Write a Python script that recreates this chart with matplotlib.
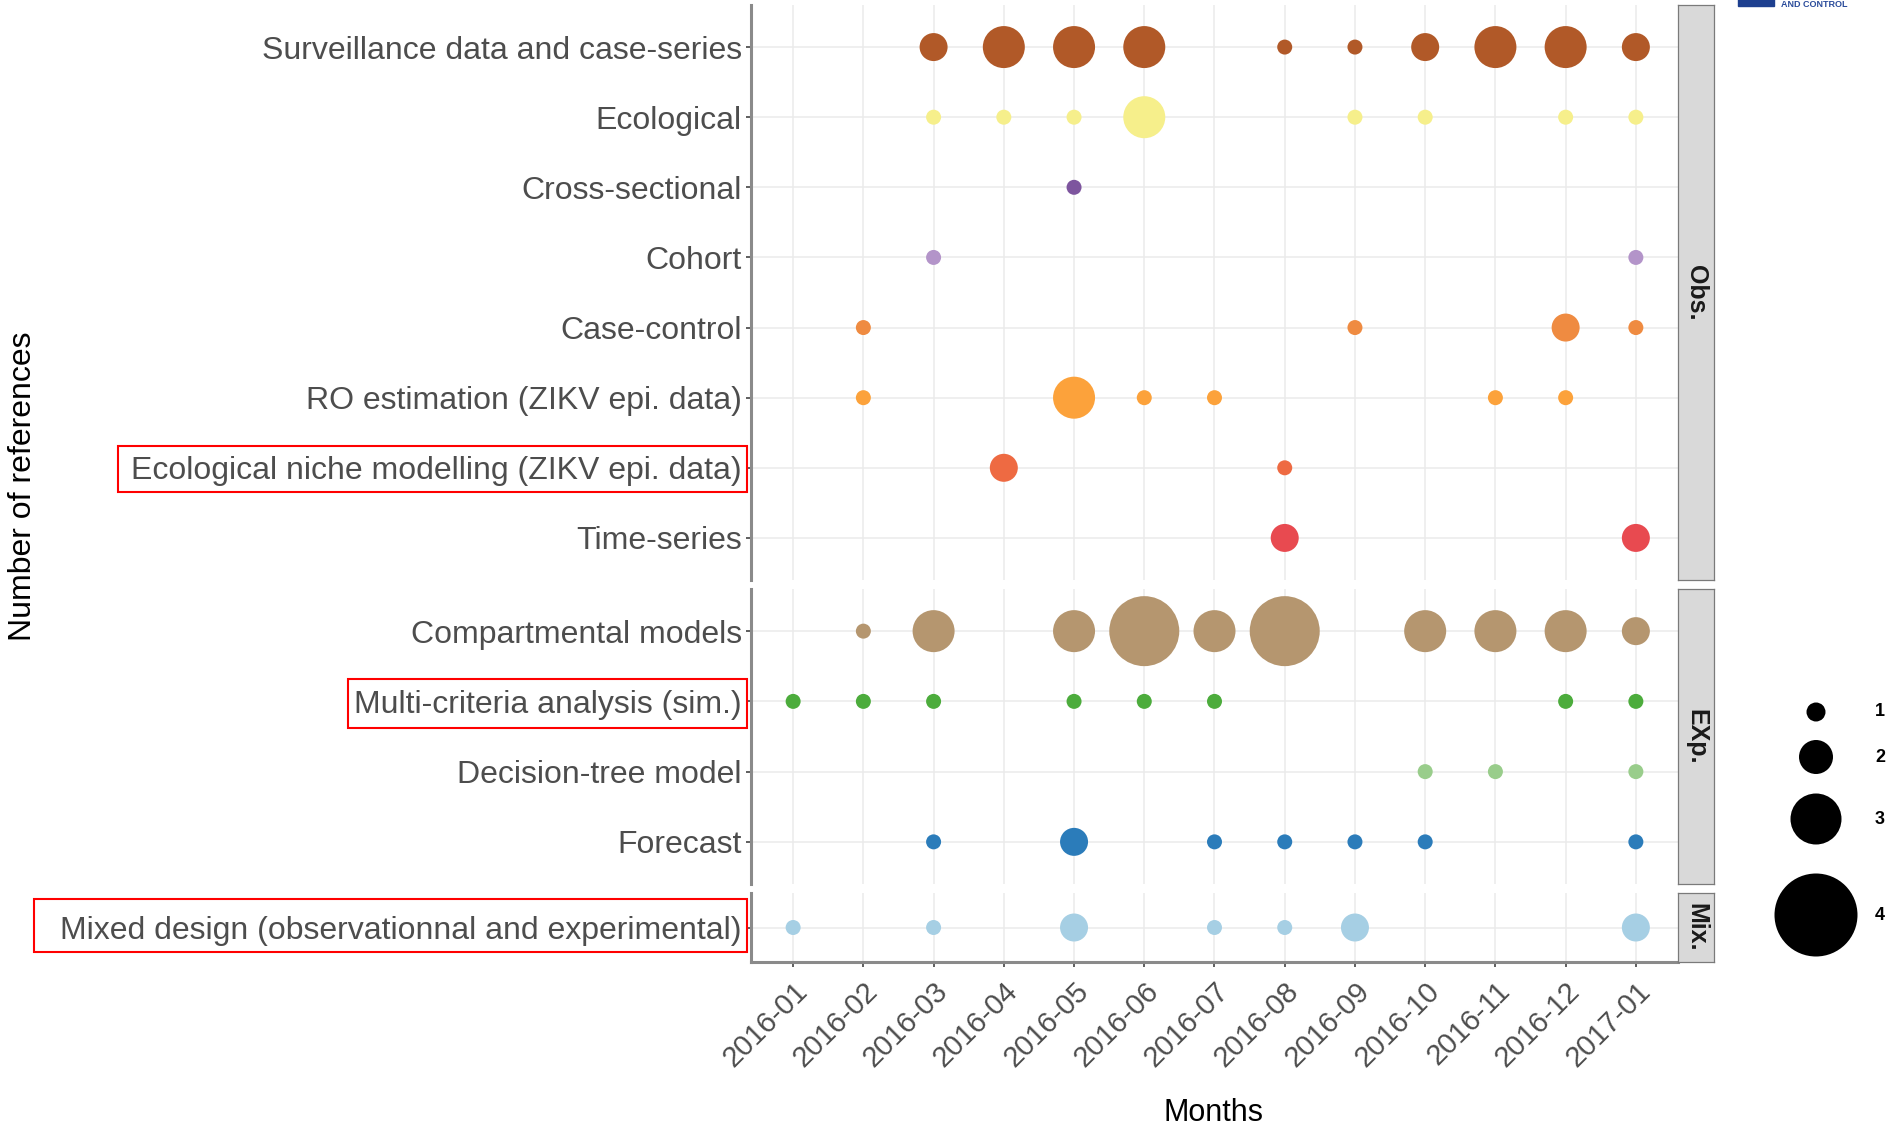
import matplotlib
matplotlib.use('Agg')
import matplotlib.pyplot as plt
from matplotlib.patches import Rectangle

plt.rcParams['font.family'] = ['Liberation Sans', 'DejaVu Sans']

# ---------------- data ----------------
months = ['2016-01', '2016-02', '2016-03', '2016-04', '2016-05', '2016-06', '2016-07',
          '2016-08', '2016-09', '2016-10', '2016-11', '2016-12', '2017-01']

obs_categories = ['Surveillance data and case-series', 'Ecological', 'Cross-sectional', 'Cohort',
                  'Case-control', 'RO estimation (ZIKV epi. data)',
                  'Ecological niche modelling (ZIKV epi. data)', 'Time-series']
exp_categories = ['Compartmental models', 'Multi-criteria analysis (sim.)',
                  'Decision-tree model', 'Forecast']
mix_categories = ['Mixed design (observationnal and experimental)']

# number of references per month (0 = none)
surveillance    = [0, 0, 2, 3, 3, 3, 0, 1, 1, 2, 3, 3, 2]
ecological      = [0, 0, 1, 1, 1, 3, 0, 0, 1, 1, 0, 1, 1]
cross_sectional = [0, 0, 0, 0, 1, 0, 0, 0, 0, 0, 0, 0, 0]
cohort          = [0, 0, 1, 0, 0, 0, 0, 0, 0, 0, 0, 0, 1]
case_control    = [0, 1, 0, 0, 0, 0, 0, 0, 1, 0, 0, 2, 1]
ro_estimation   = [0, 1, 0, 0, 3, 1, 1, 0, 0, 0, 1, 1, 0]
niche_modelling = [0, 0, 0, 2, 0, 0, 0, 1, 0, 0, 0, 0, 0]
time_series     = [0, 0, 0, 0, 0, 0, 0, 2, 0, 0, 0, 0, 2]

compartmental   = [0, 1, 3, 0, 3, 4, 3, 4, 0, 3, 3, 3, 2]
multi_criteria  = [1, 1, 1, 0, 1, 1, 1, 0, 0, 0, 0, 1, 1]
decision_tree   = [0, 0, 0, 0, 0, 0, 0, 0, 0, 1, 1, 0, 1]
forecast        = [0, 0, 1, 0, 2, 0, 1, 1, 1, 1, 0, 0, 1]

mixed_design    = [1, 0, 1, 0, 2, 0, 1, 1, 2, 0, 0, 0, 2]

legend_values = [1, 2, 3, 4]

obs_values = [surveillance, ecological, cross_sectional, cohort, case_control,
              ro_estimation, niche_modelling, time_series]
exp_values = [compartmental, multi_criteria, decision_tree, forecast]
mix_values = [mixed_design]

obs_colors = ['#b15928', '#f6ef8b', '#7d559e', '#b394c9', '#ef8b41', '#fca23b', '#ee6a42', '#e84a50']
exp_colors = ['#b5966f', '#4cac3c', '#99cd8b', '#2b7cba']
mix_colors = ['#a6cfe4']

# ---------------- style / scales ----------------
W, H = 1890, 1128
DPI = 100
size_diam_px = {1: 15, 2: 28, 3: 42, 4: 70}       # size scale (diameter in px)
legend_diam_px = {1: 19, 2: 34, 3: 51, 4: 83}


def area(d_px):
    return (d_px * 72.0 / DPI) ** 2


def rect(x0, y0, x1, y1):
    return [x0 / W, 1 - y1 / H, (x1 - x0) / W, (y1 - y0) / H]


fig = plt.figure(figsize=(W / DPI, H / DPI), dpi=DPI)

PX0, PX1 = 751, 1678
panels = [
    ('Obs.', obs_categories, obs_values, obs_colors, 5, 580),
    ('EXp.', exp_categories, exp_values, exp_colors, 589, 884),
    ('Mix.', mix_categories, mix_values, mix_colors, 893, 962),
]

for i, (strip, cats, vals, cols, top, bot) in enumerate(panels):
    ax = fig.add_axes(rect(PX0, top, PX1, bot))
    n = len(cats)
    ax.set_xlim(-0.6, len(months) - 1 + 0.6)
    if n > 1:
        ax.set_ylim(n - 1 + 0.6, -0.6)
    else:
        ax.set_ylim(0.49, -0.49)
    ax.set_axisbelow(True)
    ax.grid(True, color='#ebebeb', lw=1.1)
    for j, (row, c) in enumerate(zip(vals, cols)):
        xs = [k for k, v in enumerate(row) if v > 0]
        ss = [area(size_diam_px[v]) for v in row if v > 0]
        ax.scatter(xs, [j] * len(xs), s=ss, color=c, edgecolors='none', zorder=3)
    ax.set_yticks(range(n))
    ax.set_yticklabels(cats)
    ax.set_xticks(range(len(months)))
    for sp in ['top', 'right']:
        ax.spines[sp].set_visible(False)
    ax.spines['left'].set_color('#8a8a8a')
    ax.spines['left'].set_linewidth(2.2)
    ax.tick_params(axis='y', length=3.6, width=1.1, color='#333333',
                   labelsize=23, labelcolor='#4d4d4d', pad=3)
    if i == len(panels) - 1:
        ax.spines['bottom'].set_color('#8a8a8a')
        ax.spines['bottom'].set_linewidth(2.2)
        ax.tick_params(axis='x', length=3.6, width=1.1, color='#333333',
                       labelsize=21, labelcolor='#4d4d4d', pad=7)
        ax.set_xticklabels(months, rotation=45, ha='right', va='top',
                           rotation_mode='anchor')
    else:
        ax.spines['bottom'].set_visible(False)
        ax.tick_params(axis='x', bottom=False, labelbottom=False)

    sax = fig.add_axes(rect(1678, top, 1714, bot))
    sax.set_facecolor('#d9d9d9')
    sax.set_xticks([])
    sax.set_yticks([])
    for sp in sax.spines.values():
        sp.set_color('#7a7a7a')
        sp.set_linewidth(0.9)
    sax.text(0.5, 0.5, strip, rotation=-90, ha='center', va='center',
             fontsize=18, fontweight='bold', color='#1a1a1a', transform=sax.transAxes)

# axis titles
fig.text(23 / W, 1 - 486 / H, 'Number of references', rotation=90,
         ha='center', va='center', fontsize=23, color='black')
fig.text(1214 / W, 1 - 1113 / H, 'Months', ha='center', va='center',
         fontsize=22, color='black')

# red highlight boxes
for (x0, y0, x1, y1) in [(118, 446, 747, 492), (348, 679, 747, 728), (34, 899, 747, 952)]:
    fig.add_artist(Rectangle((x0 / W, 1 - y1 / H), (x1 - x0) / W, (y1 - y0) / H,
                             transform=fig.transFigure, fill=False, ec='#ff0000', lw=1.5))

# overlay for legend and logo
lax = fig.add_axes([0, 0, 1, 1])
lax.set_xlim(0, W)
lax.set_ylim(H, 0)
lax.axis('off')
legend_y = [712, 757, 819, 915]
lax.scatter([1816] * len(legend_values), legend_y,
            s=[area(legend_diam_px[v]) for v in legend_values], color='black', edgecolors='none')
for v, y in zip(legend_values, legend_y):
    lax.text(1880, y, str(v), ha='center', va='center', fontsize=13, fontweight='bold')

# partial logo at top right
lax.add_patch(Rectangle((1738, -2), 36, 8, color='#1d3f8f'))
lax.text(1781, 7, 'AND CONTROL', ha='left', va='baseline', fontsize=6.5,
         fontweight='bold', color='#2b4c9b')

fig.savefig('out.png', dpi=DPI)
